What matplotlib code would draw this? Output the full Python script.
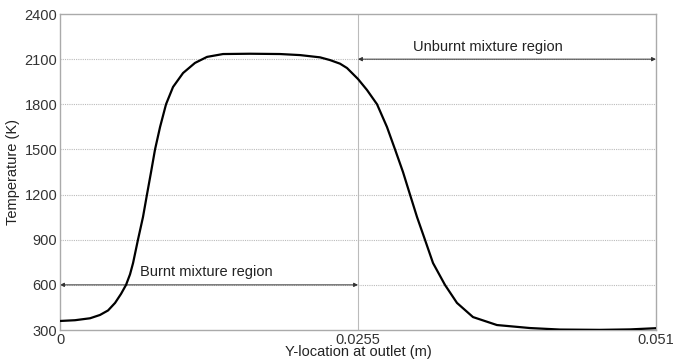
import matplotlib.pyplot as plt

plt.rcParams['font.family'] = ['Liberation Sans', 'DejaVu Sans']

# temperature profile across the outlet
y_loc = [0.0, 0.00128, 0.00257, 0.00342, 0.00411, 0.00471, 0.00522, 0.00565,
         0.00599, 0.00625, 0.00667, 0.00710, 0.00744, 0.00779, 0.00813,
         0.00856, 0.00907, 0.00967, 0.01053, 0.01155, 0.01258, 0.01395,
         0.01626, 0.01883, 0.02054, 0.02225, 0.02310, 0.02396, 0.02456,
         0.02550, 0.02627, 0.02713, 0.02798, 0.02867, 0.02935, 0.02995,
         0.03055, 0.03123, 0.03192, 0.03294, 0.03397, 0.03534, 0.03739,
         0.04022, 0.04279, 0.04621, 0.04878, 0.05100]
temp = [360, 365, 378, 400, 430, 480, 540, 600,
        670, 745, 900, 1051, 1200, 1350, 1500,
        1649, 1800, 1915, 2008, 2075, 2115, 2134,
        2136, 2134, 2127, 2112, 2094, 2070, 2041,
        1968, 1895, 1800, 1649, 1500, 1350, 1200,
        1051, 900, 745, 600, 480, 386, 333,
        313, 303, 301, 304, 312]

x_ticks = [0, 0.0255, 0.051]
x_tick_labels = ['0', '0.0255', '0.051']
y_ticks = [300, 600, 900, 1200, 1500, 1800, 2100, 2400]

fig = plt.figure(figsize=(6.73, 3.63), dpi=100)
ax = fig.add_axes([0.0892, 0.0909, 0.8855, 0.8705])

ax.plot(y_loc, temp, color='black', lw=1.6, zorder=3,
        solid_joinstyle='round')

ax.set_xlim(0, 0.051)
ax.set_ylim(300, 2400)
ax.set_xticks(x_ticks)
ax.set_xticklabels(x_tick_labels)
ax.set_yticks(y_ticks)
ax.tick_params(length=0, labelsize=10.5, colors='#333333', pad=2)

# grid: horizontal dotted lines, single vertical line at the mid point
for t in y_ticks[1:-1]:
    ax.axhline(t, color='#bbbbbb', lw=0.8, ls=(0, (1, 1)), zorder=1)
ax.axvline(0.0255, color='#bbbbbb', lw=0.8, zorder=1)

for s in ax.spines.values():
    s.set_color('#aaaaaa')
    s.set_linewidth(1.0)

# region markers
arrow = dict(arrowstyle='<|-|>', color='#333333', lw=0.7,
             mutation_scale=6, shrinkA=0, shrinkB=0)
ax.annotate('', xy=(0, 600), xytext=(0.0255, 600), arrowprops=arrow, zorder=2)
ax.annotate('', xy=(0.0255, 2100), xytext=(0.051, 2100), arrowprops=arrow, zorder=2)
ax.text(0.0125, 685, 'Burnt mixture region', ha='center', va='center',
        fontsize=10.5, color='#222222')
ax.text(0.0366, 2181, 'Unburnt mixture region', ha='center', va='center',
        fontsize=10.5, color='#222222')

ax.set_xlabel('Y-location at outlet (m)', fontsize=10.5, color='#222222', labelpad=-1)
ax.set_ylabel('Temperature (K)', fontsize=10.5, color='#222222', labelpad=3)

fig.savefig('out.png', dpi=100)
